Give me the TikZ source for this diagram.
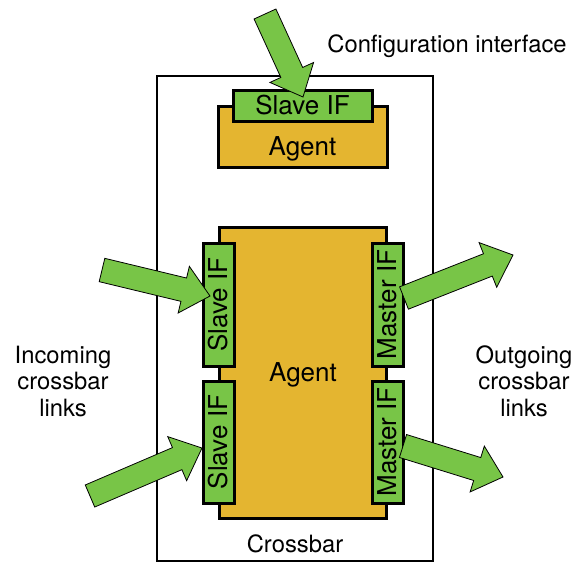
\documentclass[tikz,border=0pt]{standalone}
\usepackage{fontspec}
\setmainfont{TeX Gyre Heros}
\usetikzlibrary{calc}
\definecolor{ifgreen}{RGB}{120,197,71}
\definecolor{agentgold}{RGB}{228,181,48}
\tikzset{
  ifbox/.style={draw=black, line width=3pt, fill=ifgreen, inner sep=0pt,
    font=\fontsize{26}{30}\selectfont},
  agentbox/.style={draw=black, line width=3pt, fill=agentgold, inner sep=0pt},
  xbarbox/.style={draw=black, line width=2.5pt},
  lbl/.style={font=\fontsize{23.8}{26.5}\selectfont, align=center, inner sep=0pt},
  agentlbl/.style={font=\fontsize{26}{30}\selectfont, inner sep=0pt},
  fatarrow/.style={draw=black, line width=0.8pt, fill=ifgreen, line join=miter},
}
\newcommand\fatarr[3]{%
  \coordinate (#3n) at ($(#2)!27pt!(#1)$);
  \path[fatarrow] ($(#1)!12pt!90:(#2)$) -- ($(#3n)!12pt!90:(#2)$) -- ($(#3n)!24pt!90:(#2)$)
    -- (#2) -- ($(#3n)!24pt!-90:(#2)$) -- ($(#3n)!12pt!-90:(#2)$) -- ($(#1)!12pt!-90:(#2)$) -- cycle;}
\begin{document}
\begin{tikzpicture}[x=1pt,y=-1pt]
\useasboundingbox (0,0) rectangle (576,563);
\fill[white] (0,0) rectangle (576,563);
% crossbar
\node[xbarbox, minimum width=276, minimum height=485] (xbar) at (295,318.5) {};
% top agent
\node[agentbox, minimum width=169, minimum height=61] (agtop) at (302.5,136.5) {};
\node[agentlbl] (agtoptxt) at (302.5,149) {Agent};
\node[ifbox, minimum width=139, minimum height=31] (slvtop) at (302.5,105.5) {Slave IF};
% big agent
\node[agentbox, minimum width=167, minimum height=291] (agbig) at (302.5,372.5) {};
\node[agentlbl] (agbigtxt) at (303,375) {Agent};
% interfaces
\node[ifbox, rotate=90, minimum width=123, minimum height=31] (sl1) at (218.5,304.5) {Slave IF};
\node[ifbox, rotate=90, minimum width=122, minimum height=31] (sl2) at (218.5,442) {Slave IF};
\node[ifbox, rotate=90, minimum width=123, minimum height=31] (ms1) at (387.5,304.5) {Master IF};
\node[ifbox, rotate=90, minimum width=122, minimum height=31] (ms2) at (387.5,442) {Master IF};
% arrow coordinates
\coordinate (ta) at (265,14);   \coordinate (pa) at (303,97);
\coordinate (tb) at (102,270);  \coordinate (pb) at (210,296);
\coordinate (tc) at (90,496);   \coordinate (pc) at (202,448);
\coordinate (td) at (404,298);  \coordinate (pd) at (513,255);
\coordinate (te) at (403,446);  \coordinate (pe) at (503,477);
\fatarr{ta}{pa}{a}
\fatarr{tb}{pb}{b}
\fatarr{tc}{pc}{c}
\fatarr{td}{pd}{d}
\fatarr{te}{pe}{e}
% labels
\node[lbl] (cfg) at (447,46) {Configuration interface};
\node[lbl] (inc) at (63,381) {Incoming\\crossbar\\links};
\node[lbl] (out) at (524,381) {Outgoing\\crossbar\\links};
\node[lbl] (xbl) at (295,544) {Crossbar};
\end{tikzpicture}
\end{document}
